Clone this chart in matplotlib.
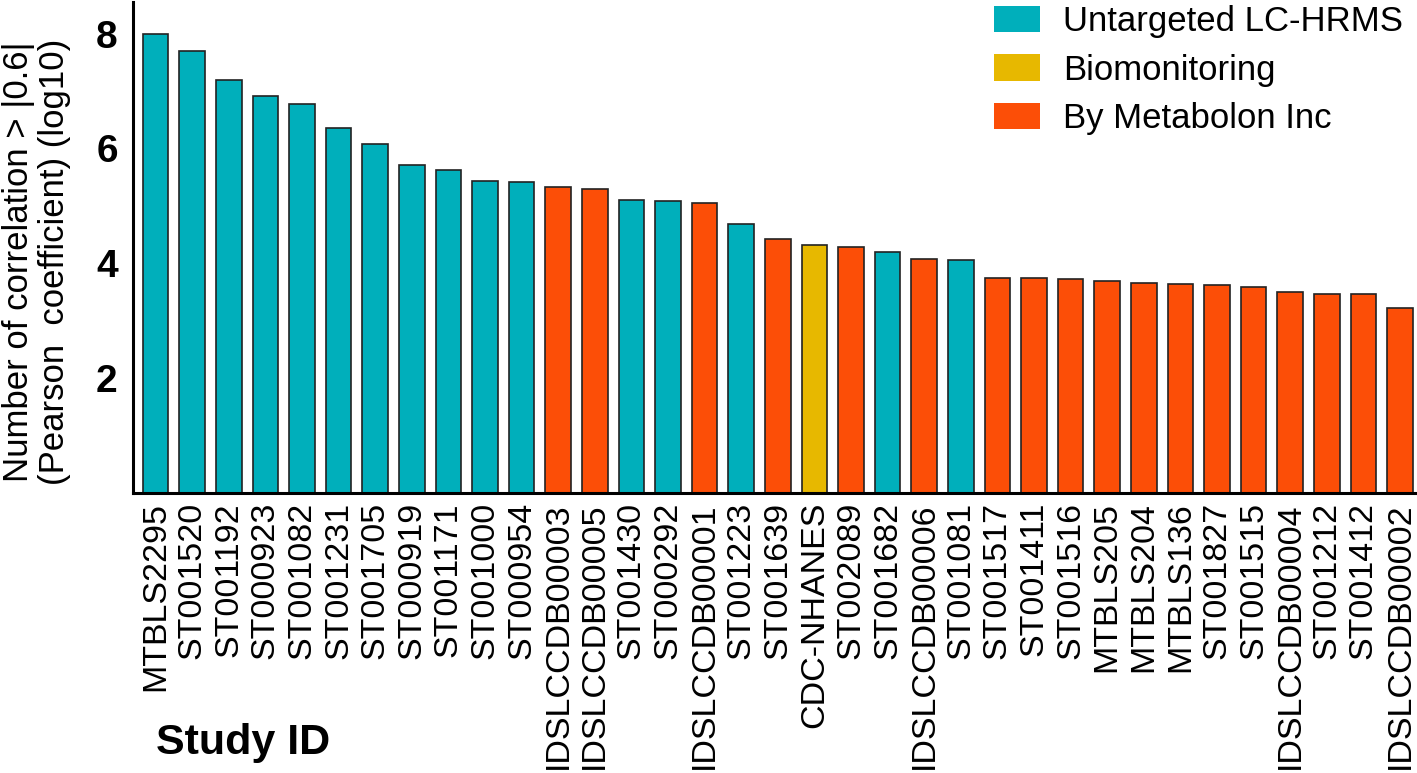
import matplotlib
matplotlib.use("Agg")
import matplotlib.pyplot as plt
from matplotlib.patches import Patch

plt.rcParams['font.family'] = ['Liberation Sans', 'DejaVu Sans']

# study ids, in plotted order
study_ids = ["MTBLS2295", "ST001520", "ST001192", "ST000923", "ST001082", "ST001231",
             "ST001705", "ST000919", "ST001171", "ST001000", "ST000954", "IDSLCCDB00003",
             "IDSLCCDB00005", "ST001430", "ST000292", "IDSLCCDB00001", "ST001223", "ST001639",
             "CDC-NHANES", "ST002089", "ST001682", "IDSLCCDB00006", "ST001081", "ST001517",
             "ST001411", "ST001516", "MTBLS205", "MTBLS204", "MTBLS136", "ST001827",
             "ST001515", "IDSLCCDB00004", "ST001212", "ST001412", "IDSLCCDB00002"]
# log10 number of correlations > |0.6|
log_counts = [8.00, 7.69, 7.19, 6.92, 6.78, 6.36, 6.07, 5.71, 5.62, 5.43, 5.41, 5.32,
              5.29, 5.10, 5.09, 5.05, 4.68, 4.43, 4.32, 4.29, 4.19, 4.07, 4.06, 3.75,
              3.74, 3.72, 3.69, 3.65, 3.64, 3.62, 3.58, 3.50, 3.47, 3.46, 3.22]
U, B, M = "Untargeted LC-HRMS", "Biomonitoring", "By Metabolon Inc"
groups = [U, U, U, U, U, U, U, U, U, U, U, M,
          M, U, U, M, U, M, B, M, U, M, U, M,
          M, M, M, M, M, M, M, M, M, M, M]
group_names = [U, B, M]
group_colors = {U: "#00AFBB", B: "#E7B800", M: "#FC4E07"}

fig = plt.figure(figsize=(14.17, 7.73), dpi=100)
ax = fig.add_axes([133/1417, 1 - 493/773, (1415 - 133)/1417, (493 - 2)/773])

x = range(len(study_ids))
ax.bar(x, log_counts, width=0.7, color=[group_colors[g] for g in groups],
       edgecolor="#222222", linewidth=1.2)

ax.set_xlim(-0.615, len(study_ids) - 1 + 0.41)
ax.set_ylim(0, 8.55)
ax.set_yticks([2, 4, 6, 8])
ax.set_xticks(list(x))
ax.set_xticklabels(study_ids, rotation=90, fontsize=24.5)
ax.tick_params(axis='x', length=0, pad=6.5)
ax.tick_params(axis='y', length=0, pad=11, labelsize=28)
for t in ax.get_yticklabels():
    t.set_fontweight("bold")

for s in ["top", "right"]:
    ax.spines[s].set_visible(False)
for s in ["left", "bottom"]:
    ax.spines[s].set_linewidth(2.2)
    ax.spines[s].set_color("black")

fig.text(2/1417, 1 - 262/773, "Number of correlation > |0.6|\n(Pearson  coefficient) (log10)",
         rotation=90, ha="left", va="center", fontsize=25, linespacing=1.1,
         multialignment="center")
fig.text(156/1417, 1 - 743/773, "Study ID", fontsize=31, fontweight="bold",
         ha="left", va="center")

handles = [Patch(facecolor=group_colors[g], edgecolor="none") for g in group_names]
fig.legend(handles, group_names, loc="upper left", bbox_to_anchor=(994/1417, 1 - 5/773),
           frameon=False, fontsize=25, handlelength=1.33, handleheight=0.78,
           handletextpad=0.65, labelspacing=0.45, borderpad=0, borderaxespad=0)

fig.savefig("out.png", dpi=100)
